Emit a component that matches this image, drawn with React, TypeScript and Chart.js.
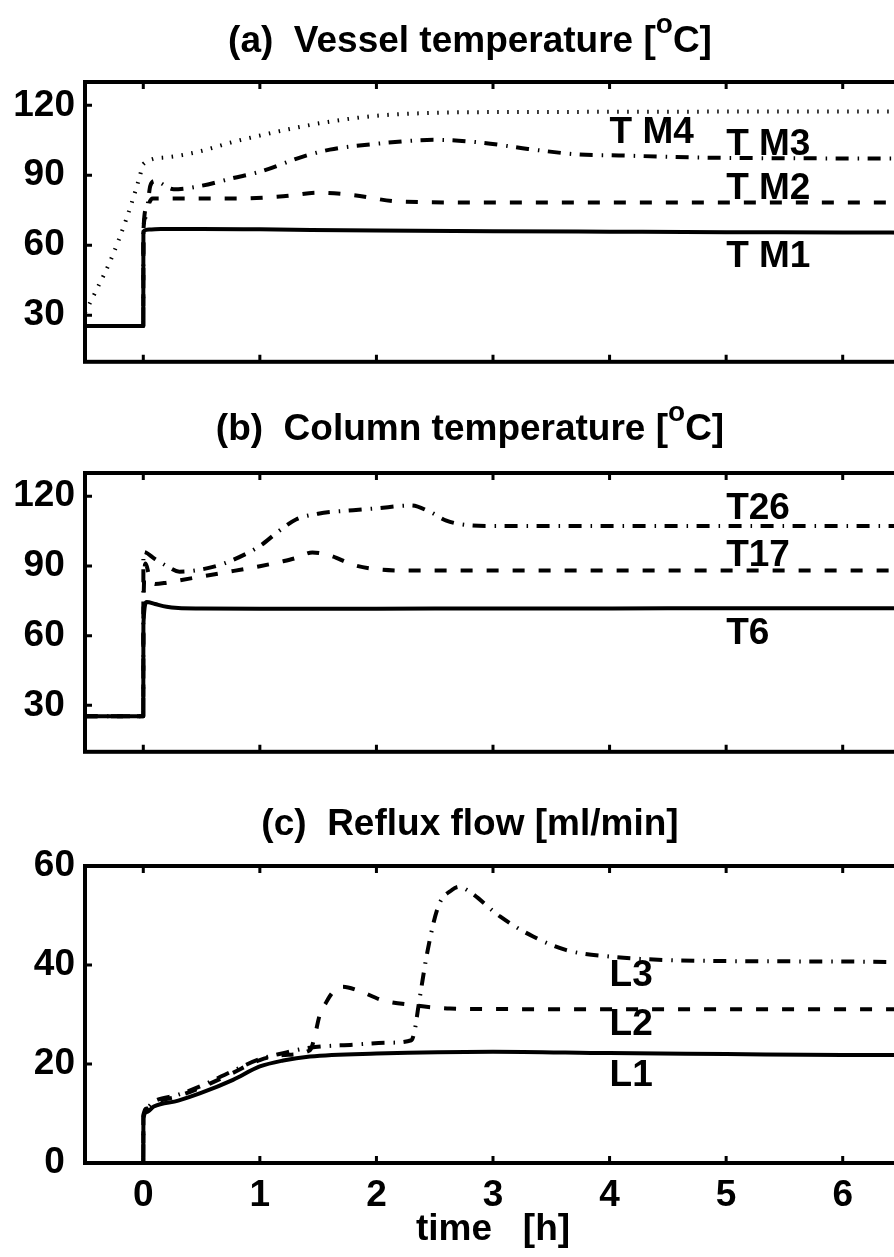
import React, { useEffect, useRef } from 'react';
import { Chart, registerables } from 'chart.js';

Chart.register(...registerables);

const FONT = '"Liberation Sans", Arial, Helvetica, sans-serif';
const FS = 37;

// ---- axes ----
const xTicks = [0, 1, 2, 3, 4, 5, 6];
const tempTicks = [30, 60, 90, 120];
const flowTicks = [0, 20, 40, 60];

// ---- (a) Vessel temperature ----
const tm1Time = [-0.5, 0, 0.001, 0.05, 0.15, 0.5, 1, 2, 3, 4, 5, 6, 6.5];
const tm1Temp = [25.4, 25.4, 65.8, 66.7, 67, 67, 66.8, 66.3, 66, 65.8, 65.6, 65.5, 65.4];

const tm2Time = [-0.5, 0, 0.001, 0.02, 0.05, 0.08, 0.3, 0.8, 1.2, 1.5, 1.8, 2.2, 3, 4, 5, 6, 6.5];
const tm2Temp = [25.4, 25.4, 66, 72, 78, 80, 80, 80, 81, 82.5, 81.5, 78.7, 78.3, 78.3, 78.3, 78.3, 78.3];

const tm3Time = [-0.5, 0, 0.001, 0.03, 0.06, 0.1, 0.26, 0.5, 0.77, 1.0, 1.35, 1.6, 2.0, 2.5, 2.9, 3.3, 3.74, 4.08, 4.77, 5.5, 6.5];
const tm3Temp = [25.4, 25.4, 66, 76, 85.5, 87.5, 84, 85.5, 88.8, 91.5, 97.7, 101, 103.5, 105.2, 104, 101.3, 98.9, 98.5, 97.6, 97.3, 97.2];

const tm4Time = [-0.5, -0.4, -0.285, -0.14, -0.03, 0, 0.2, 0.48, 0.77, 1.06, 1.31, 1.6, 2.0, 2.5, 3, 4, 5, 6, 6.5];
const tm4Temp = [31, 41, 53, 72, 89.5, 94.8, 97.7, 100.2, 104.3, 107.7, 110.4, 113, 115.5, 116.8, 117.1, 117.2, 117.3, 117.3, 117.3];

// ---- (b) Column temperature ----
const t6Time = [-0.5, 0, 0.001, 0.03, 0.1, 0.2, 0.3, 0.5, 1, 2, 3, 4, 5, 6, 6.5];
const t6Temp = [25.3, 25.3, 65, 74.5, 73.6, 72.4, 71.9, 71.7, 71.6, 71.6, 71.7, 71.7, 71.8, 71.8, 71.8];

const t17Time = [-0.5, 0, 0.001, 0.02, 0.05, 0.1, 0.2, 0.31, 0.7, 1.0, 1.2, 1.31, 1.45, 1.6, 1.8, 2.0, 2.3, 3, 4, 5, 6, 6.5];
const t17Temp = [25.3, 25.3, 70, 91, 86, 82.2, 82.8, 83.8, 87.2, 89.9, 92, 93.4, 95.8, 94.5, 90.5, 88.6, 88, 88, 88, 88, 88, 88];

const t26Time = [-0.5, 0, 0.001, 0.1, 0.2, 0.31, 0.5, 0.7, 1.0, 1.15, 1.31, 1.5, 1.8, 2.0, 2.3, 2.45, 2.6, 2.8, 3.0, 4, 5, 6, 6.5];
const t26Temp = [25.3, 25.3, 96, 93, 90, 87.5, 88.5, 91.2, 98.6, 104.5, 110, 112.5, 114, 114.8, 116, 113.5, 109.5, 107.5, 107.2, 107.2, 107.2, 107.2, 107.2];

// ---- (c) Reflux flow ----
const l1Time = [-0.5, 0, 0.001, 0.03, 0.09, 0.3, 0.49, 0.77, 1.0, 1.2, 1.43, 2.0, 3.0, 4.0, 5.0, 6.0, 6.5];
const l1Flow = [0, 0, 9, 10.3, 11.4, 12.6, 14.1, 16.8, 19.5, 20.7, 21.5, 22.1, 22.5, 22.2, 22.0, 21.8, 21.8];

const l2Time = [-0.5, 0, 0.001, 0.03, 0.09, 0.3, 0.49, 0.75, 1.0, 1.2, 1.43, 1.47, 1.51, 1.57, 1.63, 1.71, 1.85, 2.05, 2.31, 2.63, 3, 4, 5, 6, 6.5];
const l2Flow = [0, 0, 9.5, 11, 12.1, 13.5, 15.2, 18, 20.8, 21.8, 22.8, 25.5, 29.6, 32.5, 34.6, 35.6, 34.8, 32.9, 31.9, 31.2, 31.1, 31.05, 31.05, 31.05, 31.05];

const l3Time = [-0.5, 0, 0.001, 0.03, 0.09, 0.3, 0.49, 0.75, 1.0, 1.2, 1.43, 1.8, 2.1, 2.3, 2.33, 2.36, 2.44, 2.53, 2.65, 2.71, 2.8, 3.06, 3.34, 3.63, 4.0, 4.49, 5, 6, 6.5];
const l3Flow = [0, 0, 9.5, 11.2, 12.4, 13.8, 15.5, 18.4, 21.0, 22.2, 23.3, 23.9, 24.3, 24.8, 27, 31.6, 43.0, 51.8, 55.2, 55.8, 54.8, 49.8, 45.8, 43.0, 41.7, 41.0, 40.8, 40.7, 40.6];

// ---- in-plot series labels (data coordinates) ----
const vesselLabels = [
  { text: 'T M4', x: 4, y: 108.2 },
  { text: 'T M3', x: 5, y: 103.1 },
  { text: 'T M2', x: 5, y: 84.1 },
  { text: 'T M1', x: 5, y: 55.2 },
];
const columnLabels = [
  { text: 'T26', x: 5, y: 114.4 },
  { text: 'T17', x: 5, y: 94.3 },
  { text: 'T6', x: 5, y: 60.8 },
];
const refluxLabels = [
  { text: 'L3', x: 4, y: 37.8 },
  { text: 'L2', x: 4, y: 27.9 },
  { text: 'L1', x: 4, y: 17.7 },
];

// ---- line styles ----
const SOLID: number[] = [];
const DASHED = [12, 14];
const DASHDOT = [13, 9, 1.5, 8.5];
const DOTTED = [1.5, 8.5];

function series(time: number[], vals: number[], dash: number[], width: number) {
  return {
    data: time.map((t, i) => ({ x: t, y: vals[i] })),
    borderColor: '#000',
    borderWidth: width,
    borderDash: dash,
    borderCapStyle: 'butt',
    borderJoinStyle: 'round',
    pointRadius: 0,
    fill: false,
    cubicInterpolationMode: 'monotone',
  };
}

const framePlugin = {
  id: 'frame',
  afterDatasetsDraw(chart: any, _args: any, opts: any) {
    const { ctx, chartArea, scales } = chart;
    const { left, right, top, bottom } = chartArea;
    const xs = scales.x;
    const ys = scales.y;
    ctx.save();
    ctx.strokeStyle = '#000';
    ctx.fillStyle = '#000';
    ctx.setLineDash([]);
    ctx.lineWidth = 4;
    ctx.strokeRect(left, top, right - left, bottom - top);
    ctx.lineWidth = 3;
    const tl = 7;
    ctx.beginPath();
    for (const v of opts.xTicks) {
      const px = xs.getPixelForValue(v);
      ctx.moveTo(px, bottom);
      ctx.lineTo(px, bottom - tl);
      ctx.moveTo(px, top);
      ctx.lineTo(px, top + tl);
    }
    for (const v of opts.yTicks) {
      const py = ys.getPixelForValue(v);
      ctx.moveTo(left, py);
      ctx.lineTo(left + tl, py);
      ctx.moveTo(right, py);
      ctx.lineTo(right - tl, py);
    }
    ctx.stroke();

    // series labels
    ctx.font = `bold ${FS}px ${FONT}`;
    ctx.textAlign = 'left';
    ctx.textBaseline = 'middle';
    for (const l of opts.labels) {
      ctx.fillText(l.text, xs.getPixelForValue(l.x), ys.getPixelForValue(l.y));
    }

    // title with superscript
    const t = opts.title;
    ctx.textBaseline = 'alphabetic';
    ctx.font = `bold ${FS}px ${FONT}`;
    const w1 = ctx.measureText(t.before).width;
    const w3 = ctx.measureText(t.after).width;
    ctx.font = `bold 28px ${FONT}`;
    const w2 = t.sup ? ctx.measureText(t.sup).width : 0;
    let x = opts.titleCenter - (w1 + w2 + w3) / 2;
    const yb = top - opts.titleGap;
    ctx.font = `bold ${FS}px ${FONT}`;
    ctx.fillText(t.before, x, yb);
    x += w1;
    if (t.sup) {
      ctx.font = `bold 28px ${FONT}`;
      ctx.fillText(t.sup, x, yb - 19);
      x += w2;
    }
    ctx.font = `bold ${FS}px ${FONT}`;
    ctx.fillText(t.after, x, yb);
    ctx.restore();
  },
};

const CANVAS_W = 940;
const PLOT_LEFT = 85;
const PLOT_RIGHT = 901;

const panels = [
  {
    key: 'a',
    top: 0,
    height: 394,
    chartTop: 82,
    chartBottom: 379,
    yMin: 10,
    yMax: 130,
    yTicks: tempTicks,
    showX: false,
    titleGap: 30.5,
    title: { before: '(a)  Vessel temperature [', sup: 'o', after: 'C]' },
    labels: vesselLabels,
    datasets: [
      series(tm4Time, tm4Temp, DOTTED, 4),
      series(tm3Time, tm3Temp, DASHDOT, 4),
      series(tm2Time, tm2Temp, DASHED, 4),
      series(tm1Time, tm1Temp, SOLID, 4),
    ],
  },
  {
    key: 'b',
    top: 394,
    height: 390,
    chartTop: 79,
    chartBottom: 377,
    yMin: 10,
    yMax: 130,
    yTicks: tempTicks,
    showX: false,
    titleGap: 33,
    title: { before: '(b)  Column temperature [', sup: 'o', after: 'C]' },
    labels: columnLabels,
    datasets: [
      series(t26Time, t26Temp, DASHDOT, 4),
      series(t17Time, t17Temp, DASHED, 4),
      series(t6Time, t6Temp, SOLID, 4),
    ],
  },
  {
    key: 'c',
    top: 785,
    height: 472,
    chartTop: 81,
    chartBottom: 378,
    yMin: 0,
    yMax: 60,
    yTicks: flowTicks,
    showX: true,
    titleGap: 31,
    title: { before: '(c)  Reflux flow [ml/min]', sup: '', after: '' },
    labels: refluxLabels,
    datasets: [
      series(l3Time, l3Flow, DASHDOT, 4),
      series(l2Time, l2Flow, DASHED, 4),
      series(l1Time, l1Flow, SOLID, 4),
    ],
  },
];

function buildConfig(p: any): any {
  const font = { family: FONT, size: FS, weight: 'bold' };
  return {
    type: 'line',
    data: { datasets: p.datasets },
    options: {
      responsive: false,
      maintainAspectRatio: false,
      animation: false,
      layout: {
        padding: {
          top: p.chartTop,
          right: CANVAS_W - PLOT_RIGHT,
          bottom: p.showX ? 0 : p.height - p.chartBottom,
          left: 0,
        },
      },
      plugins: {
        legend: { display: false },
        tooltip: { enabled: false },
        title: { display: false },
        frame: {
          xTicks,
          yTicks: p.yTicks,
          labels: p.labels,
          title: p.title,
          titleGap: p.titleGap,
          titleCenter: 470,
        },
      },
      scales: {
        x: {
          type: 'linear',
          min: -0.5,
          max: 6.5,
          display: p.showX,
          grid: { display: false, drawTicks: false },
          border: { display: false },
          afterBuildTicks: (s: any) => {
            s.ticks = xTicks.map((v) => ({ value: v }));
          },
          afterFit: (s: any) => {
            if (p.showX) s.height = p.height - p.chartBottom;
          },
          ticks: { font, color: '#000', padding: 11, maxRotation: 0, autoSkip: false },
          title: {
            display: p.showX,
            text: 'time   [h]',
            font,
            color: '#000',
            padding: { top: 0, bottom: 5 },
          },
        },
        y: {
          type: 'linear',
          min: p.yMin,
          max: p.yMax,
          grid: { display: false, drawTicks: false },
          border: { display: false },
          afterBuildTicks: (s: any) => {
            s.ticks = p.yTicks.map((v: number) => ({ value: v }));
          },
          afterFit: (s: any) => {
            s.width = PLOT_LEFT;
          },
          ticks: { font, color: '#000', padding: 10, crossAlign: 'center', autoSkip: false },
        },
      },
    },
    plugins: [framePlugin],
  };
}

function Panel({ p }: { p: any }) {
  const ref = useRef<HTMLCanvasElement>(null);
  useEffect(() => {
    const chart = new Chart(ref.current as HTMLCanvasElement, buildConfig(p));
    return () => chart.destroy();
  }, []);
  return (
    <canvas
      ref={ref}
      width={CANVAS_W}
      height={p.height}
      style={{ position: 'absolute', left: 0, top: p.top, width: CANVAS_W, height: p.height }}
    />
  );
}

export default function App() {
  return (
    <div
      style={{
        position: 'fixed',
        left: 0,
        top: 0,
        width: 894,
        height: 1257,
        overflow: 'hidden',
        background: '#fff',
      }}
    >
      {panels.map((p) => (
        <Panel key={p.key} p={p} />
      ))}
    </div>
  );
}
